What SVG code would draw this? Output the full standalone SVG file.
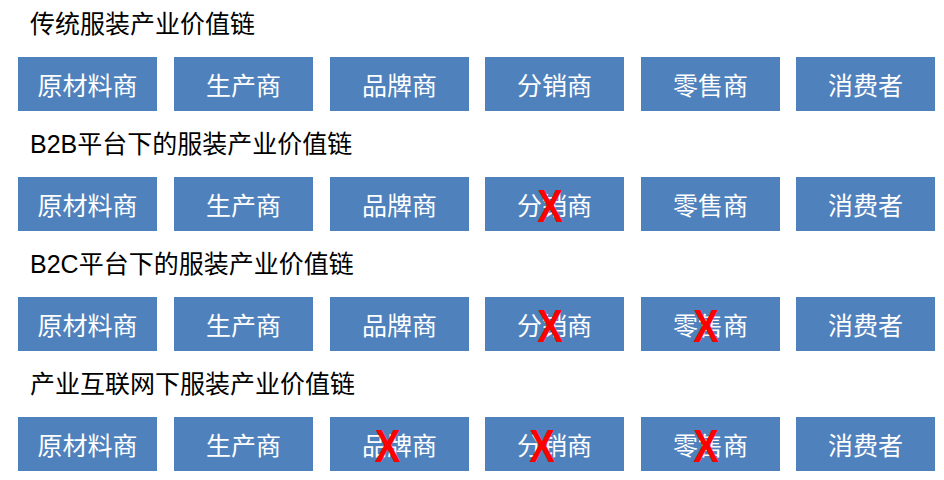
<svg xmlns="http://www.w3.org/2000/svg" width="944" height="480" viewBox="0 0 944 480">
<style>
.title{font-family:"Liberation Sans","Noto Sans CJK SC",sans-serif;font-size:25px;fill:#000}
.box rect{fill:#4F81BD}
.box text{font-family:"Noto Sans CJK SC",sans-serif;font-size:25px;fill:#fff;text-anchor:middle;dominant-baseline:central}
.x{font-family:"Liberation Sans",sans-serif;font-weight:bold;font-size:47px;fill:#FF0000;text-anchor:middle}
</style>
<rect width="944" height="480" fill="#fff"/>
<text class="title" x="30" y="33">传统服装产业价值链</text>
<text class="title" x="30" y="153">B2B平台下的服装产业价值链</text>
<text class="title" x="30" y="273">B2C平台下的服装产业价值链</text>
<text class="title" x="30" y="393">产业互联网下服装产业价值链</text>
<g id="row1">
<g id="r1n1" class="box"><rect x="18" y="57" width="139" height="54"/><text x="87.5" y="84">原材料商</text></g>
<g id="r1n2" class="box"><rect x="174" y="57" width="139" height="54"/><text x="243.5" y="84">生产商</text></g>
<g id="r1n3" class="box"><rect x="330" y="57" width="139" height="54"/><text x="399.5" y="84">品牌商</text></g>
<g id="r1n4" class="box"><rect x="485" y="57" width="139" height="54"/><text x="554.5" y="84">分销商</text></g>
<g id="r1n5" class="box"><rect x="641" y="57" width="139" height="54"/><text x="710.5" y="84">零售商</text></g>
<g id="r1n6" class="box"><rect x="796" y="57" width="139" height="54"/><text x="865.5" y="84">消费者</text></g>
</g>
<g id="row2">
<g id="r2n1" class="box"><rect x="18" y="177" width="139" height="54"/><text x="87.5" y="204">原材料商</text></g>
<g id="r2n2" class="box"><rect x="174" y="177" width="139" height="54"/><text x="243.5" y="204">生产商</text></g>
<g id="r2n3" class="box"><rect x="330" y="177" width="139" height="54"/><text x="399.5" y="204">品牌商</text></g>
<g id="r2n4" class="box"><rect x="485" y="177" width="139" height="54"/><text x="554.5" y="204">分销商</text></g>
<g id="r2n5" class="box"><rect x="641" y="177" width="139" height="54"/><text x="710.5" y="204">零售商</text></g>
<g id="r2n6" class="box"><rect x="796" y="177" width="139" height="54"/><text x="865.5" y="204">消费者</text></g>
</g>
<g id="row3">
<g id="r3n1" class="box"><rect x="18" y="297" width="139" height="54"/><text x="87.5" y="324">原材料商</text></g>
<g id="r3n2" class="box"><rect x="174" y="297" width="139" height="54"/><text x="243.5" y="324">生产商</text></g>
<g id="r3n3" class="box"><rect x="330" y="297" width="139" height="54"/><text x="399.5" y="324">品牌商</text></g>
<g id="r3n4" class="box"><rect x="485" y="297" width="139" height="54"/><text x="554.5" y="324">分销商</text></g>
<g id="r3n5" class="box"><rect x="641" y="297" width="139" height="54"/><text x="710.5" y="324">零售商</text></g>
<g id="r3n6" class="box"><rect x="796" y="297" width="139" height="54"/><text x="865.5" y="324">消费者</text></g>
</g>
<g id="row4">
<g id="r4n1" class="box"><rect x="18" y="417" width="139" height="54"/><text x="87.5" y="444">原材料商</text></g>
<g id="r4n2" class="box"><rect x="174" y="417" width="139" height="54"/><text x="243.5" y="444">生产商</text></g>
<g id="r4n3" class="box"><rect x="330" y="417" width="139" height="54"/><text x="399.5" y="444">品牌商</text></g>
<g id="r4n4" class="box"><rect x="485" y="417" width="139" height="54"/><text x="554.5" y="444">分销商</text></g>
<g id="r4n5" class="box"><rect x="641" y="417" width="139" height="54"/><text x="710.5" y="444">零售商</text></g>
<g id="r4n6" class="box"><rect x="796" y="417" width="139" height="54"/><text x="865.5" y="444">消费者</text></g>
</g>
<g id="connectors"/>
<g id="marks">
<text class="x" transform="translate(550,222) scale(0.82,1)">X</text>
<text class="x" transform="translate(550,342) scale(0.82,1)">X</text>
<text class="x" transform="translate(706,342) scale(0.82,1)">X</text>
<text class="x" transform="translate(387.5,462) scale(0.82,1)">X</text>
<text class="x" transform="translate(542,462) scale(0.82,1)">X</text>
<text class="x" transform="translate(706,462) scale(0.82,1)">X</text>
</g>
</svg>
